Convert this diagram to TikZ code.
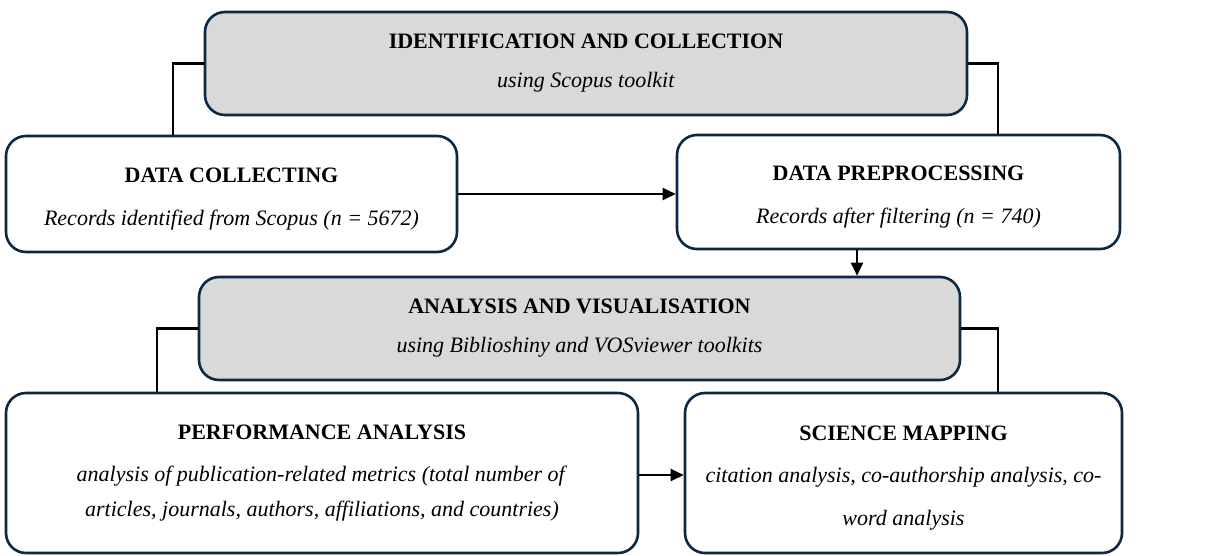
\documentclass[tikz,border=0pt]{standalone}
\usepackage{fontspec}
\setmainfont{Liberation Serif}
\usetikzlibrary{arrows.meta}
\definecolor{boxline}{HTML}{0E2841}
\definecolor{boxgray}{HTML}{D9D9D9}
\newcommand{\topgap}{\rule{0pt}{24pt}}
\tikzset{
  stagebox/.style={draw=boxline, line width=2.6pt, rounded corners=20pt, fill=white, align=center, inner sep=0pt, font=\fontsize{22}{35}\selectfont},
  graybox/.style={stagebox, fill=boxgray},
  link/.style={draw=black, line width=2.2pt},
  flow/.style={link, -{Triangle[length=13pt,width=12pt]}}
}
\begin{document}
\begin{tikzpicture}[x=1pt,y=-1pt]
\useasboundingbox (0,0) rectangle (1209,555);
\node[graybox, minimum width=762pt, minimum height=103pt] (b1) at (586,63.5)
  {\textbf{IDENTIFICATION AND COLLECTION}\\[4pt]\textit{using Scopus toolkit}};
\node[stagebox, minimum width=451pt, minimum height=116pt] (b2) at (231.5,194)
  {\topgap\textbf{DATA COLLECTING}\\[8pt]\textit{Records identified from Scopus (n = 5672)}};
\node[stagebox, minimum width=443pt, minimum height=114pt] (b3) at (898.5,192)
  {\topgap\textbf{DATA PREPROCESSING}\\[8pt]\textit{Records after filtering (n = 740)}};
\node[graybox, minimum width=761pt, minimum height=103pt] (b4) at (579.5,328.5)
  {\textbf{ANALYSIS AND VISUALISATION}\\[4pt]\textit{using Biblioshiny and VOSviewer toolkits}};
\node[stagebox, minimum width=632pt, minimum height=160pt] (b5) at (322,473)
  {\textbf{PERFORMANCE ANALYSIS}\\[7pt]\textit{analysis of publication-related metrics (total number of}\\\textit{articles, journals, authors, affiliations, and countries)}};
\node[stagebox, minimum width=437pt, minimum height=160pt] (b6) at (903.5,473)
  {\topgap\textbf{SCIENCE MAPPING}\\[7pt]\textit{citation analysis, co-authorship analysis, co-}\\[8pt]\textit{word analysis}};
% connectors
\draw[link] (b1.west) -| ([xshift=-58.5pt]b2.north);
\draw[link] (b1.east) -| ([xshift=99.5pt]b3.north);
\draw[flow] (b2.east) -- (b2.east -| b3.west);
\draw[flow] ([xshift=-41.5pt]b3.south) -- ([xshift=-41.5pt]b3.south |- b4.north);
\draw[link] (b4.west) -| ([xshift=-165pt]b5.north);
\draw[link] (b4.east) -| ([xshift=94.5pt]b6.north);
\draw[flow] ([yshift=-2pt]b5.east) -- ([yshift=-2pt]b5.east -| b6.west);
\end{tikzpicture}
\end{document}
